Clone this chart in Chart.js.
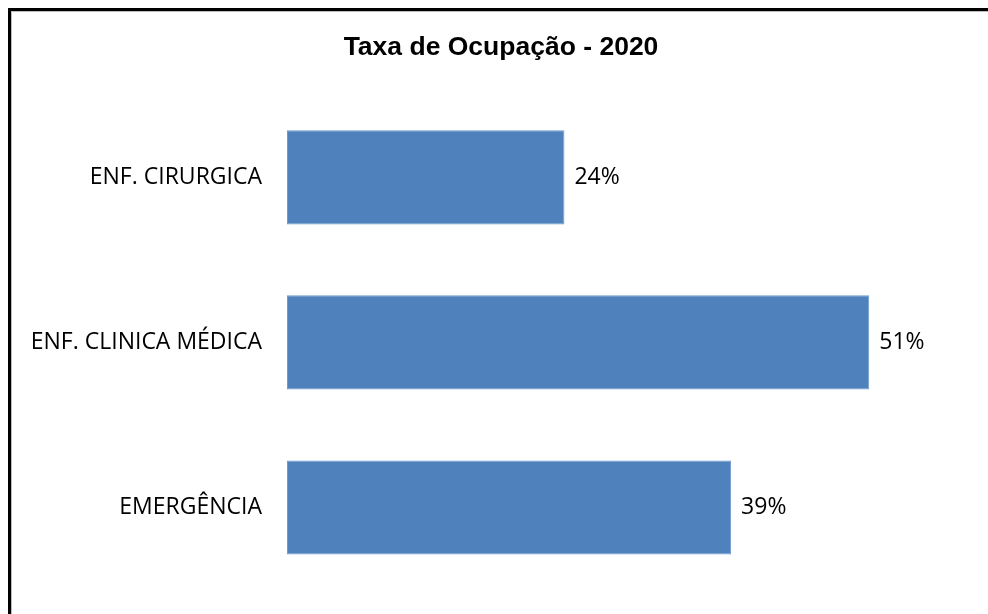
<!DOCTYPE html>
<html>
<head>
<meta charset="utf-8">
<script src="https://cdn.jsdelivr.net/npm/chart.js@4/dist/chart.umd.min.js"></script>
<style>
  html, body { margin: 0; padding: 0; background: #fff; }
  #wrap { position: relative; width: 988px; height: 614px; overflow: hidden; }
  #frame {
    position: absolute; left: 8px; top: 8px; width: 990px; height: 620px;
    border-top: 3px solid #000; border-left: 3px solid #000;
    box-shadow: 1px 1px 0 #bbb inset;
    pointer-events: none;
  }
  canvas { position: absolute; left: 0; top: 0; }
</style>
</head>
<body>
<div id="wrap">
  <canvas id="plot" width="988" height="614"></canvas>
  <div id="frame"></div>
</div>
<script>
'use strict';

const categories = ['ENF. CIRURGICA', 'ENF. CLINICA MÉDICA', 'EMERGÊNCIA'];
const occupancy = [0.243, 0.51, 0.389];
const chartTitle = 'Taxa de Ocupação - 2020';

// draws the percentage next to the end of each bar
const barLabels = {
  id: 'barLabels',
  afterDatasetsDraw(chart){
    const ctx = chart.ctx;
    const meta = chart.getDatasetMeta(0);
    ctx.save();
    ctx.font = '23px "Open Sans"';
    ctx.fillStyle = '#000';
    ctx.textAlign = 'left';
    ctx.textBaseline = 'middle';
    meta.data.forEach((bar, i)=>{
      ctx.fillText(Math.round(occupancy[i] * 100) + '%', bar.x + 10, bar.y);
    });
    ctx.restore();
  }
};

let chart = null;

function makePlot(){
  chart = new Chart(document.querySelector('#plot'), {
    type: 'bar',
    data: {
      labels: categories,
      datasets: [{
        label: 'Taxa',
        data: occupancy,
        backgroundColor: '#4F81BD',
        borderColor: '#6F9AD0',
        borderWidth: 1,
        borderSkipped: false,
        categoryPercentage: 1,
        barPercentage: 0.57
      }]
    },
    options: {
      indexAxis: 'y',
      responsive: false,
      animation: false,
      devicePixelRatio: 1,
      layout: {padding: {left: 14, right: 0, top: 0, bottom: 24}},
      plugins: {
        legend: {display: false},
        tooltip: {enabled: false},
        title: {
          display: true,
          text: chartTitle,
          color: '#000',
          font: {family: '"Liberation Sans", Arial', size: 26.5, weight: 'bold'},
          padding: {top: 32, bottom: 31}
        }
      },
      scales: {
        x: {
          display: false,
          min: 0,
          max: 0.614
        },
        y: {
          grid: {display: false, drawTicks: false},
          border: {display: false},
          ticks: {
            color: '#000',
            padding: 25,
            autoSkip: false,
            font: {family: '"Open Sans"', size: 23}
          },
          afterFit(scale){
            scale.width = 273;
            scale.paddingTop = 0;
            scale.paddingBottom = 0;
          }
        }
      }
    },
    plugins: [barLabels]
  });
}

makePlot();
</script>
</body>
</html>
